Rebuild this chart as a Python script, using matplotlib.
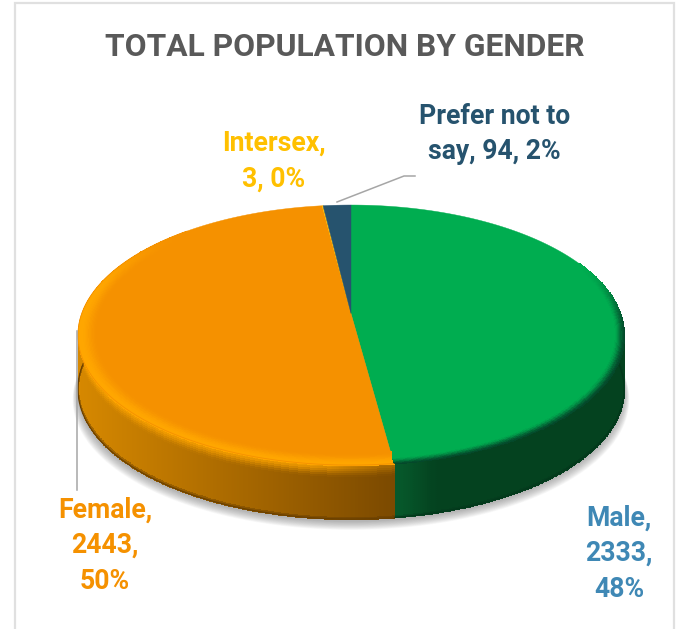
import matplotlib
matplotlib.use('Agg')
import matplotlib.pyplot as plt
import matplotlib.colors as mc
import numpy as np

plt.rcParams['font.family'] = ['Roboto', 'DejaVu Sans']

# values, clockwise from the top of the pie
labels = ['Male', 'Female', 'Intersex', 'Prefer not to say']
values = [2333, 2443, 3, 94]
percents = [48, 50, 0, 2]
colors = ['#00AD50', '#F59100', '#FFC000', '#26536E']

# where the pie sits on the canvas (pixels)
cx, cy = 351, 313.6
a, b, k = 269.3, 126.5, 0.165
depth = 54


def project(ang, r=1.0):
    # circle seen from above with a little perspective
    u = r * np.sin(ang)
    v = r * np.cos(ang)
    w = 1 + k * v
    return cx + a * u / w, cy - b * v / w


def rgb(c):
    return np.array(mc.to_rgb(c))


def mix(c1, c2, t):
    # t is an array with the blend per cell
    t = np.asarray(t)[..., None]
    return c1 * (1 - t) + c2 * t


def smooth(t):
    t = np.clip(t, 0, 1)
    return t * t * (3 - 2 * t)


def mesh(X, Y, C, z):
    ax.pcolormesh(X, Y, np.clip(C, 0, 1), shading='flat', edgecolors='face', linewidth=0.6,
                  antialiased=False, zorder=z)


def centers(A, B):
    return (A[:-1, :-1] + A[1:, 1:]) / 2, (B[:-1, :-1] + B[1:, 1:]) / 2


fig = plt.figure(figsize=(6.8, 6.29), dpi=100)
ax = fig.add_axes([0, 0, 1, 1])
ax.set_xlim(0, 680)
ax.set_ylim(629, 0)
ax.axis('off')

# chart frame, open at the bottom
ax.plot([15, 15, 673.5, 673.5], [629, 3, 3, 629], color='#E0E0E0', lw=1.6, solid_joinstyle='miter')

# soft shadow under the pie
tx, ty = project(np.linspace(0, 2 * np.pi, 361))
for i in range(16):
    grow = 16 - i
    ax.fill(cx + (tx - cx) * (1 + grow * 0.0012), ty + depth + 2 + grow * 0.55,
            color='#6F6F6F', alpha=0.04, lw=0, zorder=1)

total = sum(values)
edges = np.cumsum([0] + values) / total * 2 * np.pi
male_end, female_end = edges[1], edges[2]
d = np.linspace(0, depth, 28)

# side wall: green part
t = np.linspace(np.pi / 2 - 0.02, male_end, 240)
T, D = np.meshgrid(t, d)
X, Y = project(T)
Y = Y + D
tm, dm = centers(T, D)
C = mix(rgb('#04421F'), rgb('#06582B'), smooth((tm - male_end + 0.15) / 0.15))
C = mix(C, rgb('#02301A'), smooth((dm - depth + 2) / 2) * 0.5)
mesh(X, Y, C, 2)
xe, ye = project(t)
ax.plot(xe, ye + depth, color='#03381B', lw=0.9, zorder=2.5)

# side wall: orange part, lit from the left
t = np.linspace(male_end, 1.5 * np.pi + 0.02, 320)
T, D = np.meshgrid(t, d)
X, Y = project(T)
Y = Y + D
tm, dm = centers(T, D)
xm = project(tm)[0]
C = mix(rgb('#D68800'), rgb('#7C4A00'), (xm - 78) / (391 - 78))
C = mix(C, rgb('#5E3800'), smooth((dm - depth + 2.5) / 2.5) * 0.6)
C = mix(C, rgb('#FFA500'), (1 - smooth(dm / 13)) * 0.85 * (1 - 0.55 * smooth((xm - 300) / 90)))
mesh(X, Y, C, 2)
xe, ye = project(t)
ax.plot(xe, ye + depth, color='#6A4000', lw=0.9, zorder=2.5)

# flat top of each slice
for name, col, start, end in zip(labels, colors, edges[:-1], edges[1:]):
    t = np.linspace(start, end, max(int((end - start) * 80), 2))
    x, y = project(t)
    ax.fill(np.r_[cx, x], np.r_[cy, y], color=col, lw=0.3, zorder=3)

# bevel at the front rim, fades out towards the back of the pie
r = np.linspace(1.0, 0.93, 16)
t = np.linspace(male_end, 1.76 * np.pi, 300)
T, R = np.meshgrid(t, r)
X, Y = project(T, R)
tm, rm = centers(T, R)
strength = 1 - smooth((tm - 1.55 * np.pi) / (0.2 * np.pi))
C = mix(rgb('#F59100'), rgb('#FFA600'), (1 - smooth((1 - rm - 0.012) / 0.058)) * strength)
mesh(X, Y, C, 3.5)
xe, ye = project(t)
ax.plot(xe, ye, color='#F59100', lw=0.6, zorder=3.6)

t = np.linspace(0.36 * np.pi, male_end, 240)
r = np.linspace(1.0, 0.955, 12)
T, R = np.meshgrid(t, r)
X, Y = project(T, R)
tm, rm = centers(T, R)
strength = smooth((tm - 0.36 * np.pi) / (0.2 * np.pi))
C = mix(rgb('#00AD50'), rgb('#04472A'), (1 - smooth((1 - rm) / 0.04)) * strength)
mesh(X, Y, C, 3.5)

# leader lines
ax.plot([337, 404, 415], [202, 176, 176], color='#A6A6A6', lw=1.1, zorder=4)
ax.plot([76.5, 76.5], [331, 490], color='#A6A6A6', lw=1.1, zorder=4)

ax.text(344.5, 46.5, 'TOTAL POPULATION BY GENDER', ha='center', va='center',
        fontsize=22.85, fontweight='bold', color='#595959')

label_font = dict(ha='center', va='center', fontsize=19.2, fontweight='bold', linespacing=1.42)
ax.text(494.5, 134, f'{labels[3].replace("not to say", "not to")}\nsay, {values[3]}, {percents[3]}%',
        color='#26536E', zorder=5, **label_font)
ax.text(274, 161, f'{labels[2]},\n{values[2]}, {percents[2]}%', color='#FFC000', zorder=5, **label_font)
ax.text(105, 545.5, f'{labels[1]},\n{values[1]},\n{percents[1]}%', color='#F59100', zorder=5, **label_font)
ax.text(619, 553.5, f'{labels[0]},\n{values[0]},\n{percents[0]}%', color='#3F88B5', zorder=5, **label_font)

fig.savefig('out.png', dpi=100)
